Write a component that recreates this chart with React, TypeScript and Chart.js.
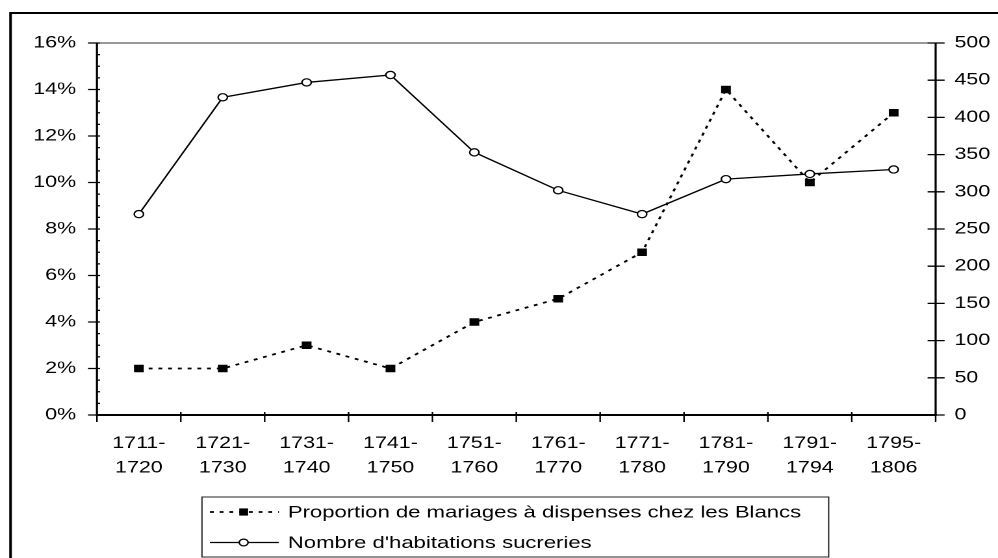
import React, { useEffect, useRef } from 'react';
import { Chart, registerables } from 'chart.js';

Chart.register(...registerables);

// ---- data ----
const categories: string[][] = [
  ['1711-', '1720'], ['1721-', '1730'], ['1731-', '1740'], ['1741-', '1750'], ['1751-', '1760'],
  ['1761-', '1770'], ['1771-', '1780'], ['1781-', '1790'], ['1791-', '1794'], ['1795-', '1806'],
];
const proportionValues = [2, 2, 3, 2, 4, 5, 7, 14, 10, 13];
const habitationValues = [270, 427, 447, 457, 353, 302, 270, 317, 324, 330];
const leftMax = 16;
const leftStep = 2;
const rightMax = 500;
const rightStep = 50;
const seriesLabels = [
  'Proportion de mariages à dispenses chez les Blancs',
  "Nombre d'habitations sucreries",
];

// ---- layout ----
const W = 768;
const H = 558;
const SX = 998 / W;
const FONT = '"Liberation Sans", Arial, sans-serif';

const framePlugin = {
  id: 'framePlugin',
  afterDraw(chart: any) {
    const { ctx, chartArea } = chart;
    const { left, right, top, bottom } = chartArea;
    const yL = chart.scales.y;
    const yR = chart.scales.y1;
    ctx.save();
    // outer frame
    ctx.strokeStyle = '#000';
    ctx.lineWidth = 2;
    ctx.beginPath();
    ctx.moveTo(8.1, H + 5);
    ctx.lineTo(8.1, 13);
    ctx.lineTo(W + 5, 13);
    ctx.stroke();
    // top line of plot
    ctx.strokeStyle = '#333';
    ctx.lineWidth = 1;
    ctx.beginPath();
    ctx.moveTo(left, top);
    ctx.lineTo(right, top);
    ctx.stroke();
    // axes
    ctx.strokeStyle = '#000';
    ctx.lineWidth = 1.6;
    ctx.beginPath();
    ctx.moveTo(left, top);
    ctx.lineTo(left, bottom);
    ctx.moveTo(right, top);
    ctx.lineTo(right, bottom);
    ctx.stroke();
    ctx.lineWidth = 2;
    ctx.beginPath();
    ctx.moveTo(left - 0.8, bottom);
    ctx.lineTo(right + 0.8, bottom);
    ctx.stroke();
    // left ticks
    ctx.lineWidth = 1.3;
    ctx.beginPath();
    for (let v = 0; v <= leftMax + 1e-9; v += leftStep / 4) {
      const y = yL.getPixelForValue(v);
      const major = Math.abs(v / leftStep - Math.round(v / leftStep)) < 1e-6;
      ctx.moveTo(major ? left - 6.9 : left, y);
      ctx.lineTo(left + 2.4, y);
    }
    // right ticks
    for (let v = 0; v <= rightMax + 1e-9; v += rightStep) {
      const y = yR.getPixelForValue(v);
      ctx.moveTo(right - 6.2, y);
      ctx.lineTo(right + 6.9, y);
    }
    ctx.stroke();
    // x ticks
    ctx.lineWidth = 1.2;
    ctx.beginPath();
    const n = categories.length;
    for (let i = 0; i <= n; i++) {
      const x = left + (i * (right - left)) / n;
      ctx.moveTo(x, bottom - 3);
      ctx.lineTo(x, bottom + 7);
    }
    ctx.stroke();

    // legend
    const bx0 = 155.4, bx1 = 637.7, by0 = 497, by1 = 557;
    ctx.strokeStyle = '#222';
    ctx.lineWidth = 1;
    ctx.strokeRect(bx0, by0, bx1 - bx0, by1 - by0);
    const rows = [512, 542.5];
    const lx0 = 161.5, lx1 = 214.6, mx = 187.5;
    // row 1: dotted line with square
    ctx.strokeStyle = '#000';
    ctx.lineWidth = 1.8;
    ctx.setLineDash([3, 4.5]);
    ctx.beginPath();
    ctx.moveTo(lx0, rows[0]);
    ctx.lineTo(lx1, rows[0]);
    ctx.stroke();
    ctx.setLineDash([]);
    ctx.fillStyle = '#000';
    ctx.fillRect(mx - 3.4, rows[0] - 3.6, 6.8, 7.2);
    // row 2: solid line with open circle
    ctx.lineWidth = 1.3;
    ctx.beginPath();
    ctx.moveTo(lx0, rows[1]);
    ctx.lineTo(lx1, rows[1]);
    ctx.stroke();
    ctx.beginPath();
    ctx.arc(mx, rows[1], 3.4, 0, Math.PI * 2);
    ctx.fillStyle = '#fff';
    ctx.fill();
    ctx.lineWidth = 1.2;
    ctx.stroke();
    // texts
    ctx.fillStyle = '#000';
    ctx.font = `17px ${FONT}`;
    ctx.textBaseline = 'alphabetic';
    ctx.textAlign = 'left';
    ctx.fillText(seriesLabels[0], 221.5, 517.5);
    ctx.fillText(seriesLabels[1], 221.5, 548);
    ctx.restore();
  },
};

const noGrid = { display: false, drawTicks: false, tickLength: 0 };

export default function App() {
  const ref = useRef<HTMLCanvasElement>(null);
  useEffect(() => {
    const canvas = ref.current;
    if (!canvas) return;
    const chart = new Chart(canvas, {
      type: 'line',
      data: {
        labels: categories,
        datasets: [
          {
            label: seriesLabels[1],
            data: habitationValues,
            yAxisID: 'y1',
            borderColor: '#000',
            borderWidth: 1.3,
            pointStyle: 'circle',
            pointRadius: 3.6,
            pointBorderWidth: 1.2,
            pointBackgroundColor: '#fff',
            pointBorderColor: '#000',
            tension: 0,
            order: 0,
          },
          {
            label: seriesLabels[0],
            data: proportionValues,
            yAxisID: 'y',
            borderColor: '#000',
            borderWidth: 1.8,
            borderDash: [3, 4.5],
            pointStyle: 'rect',
            pointRadius: 5.3,
            pointBorderWidth: 0,
            pointBackgroundColor: '#000',
            pointBorderColor: '#000',
            tension: 0,
            order: 1,
          },
        ],
      },
      options: {
        responsive: false,
        animation: false,
        devicePixelRatio: 2,
        layout: { padding: { left: 0, right: 0, top: 43, bottom: 0 } },
        plugins: { legend: { display: false }, tooltip: { enabled: false } },
        scales: {
          x: {
            type: 'category',
            offset: true,
            grid: noGrid,
            border: { display: false },
            ticks: {
              color: '#000',
              font: { family: FONT, size: 16.5, lineHeight: 1.5 },
              padding: 16,
              maxRotation: 0,
              autoSkip: false,
            },
            afterFit: (s: any) => { s.height = H - 415; },
          },
          y: {
            position: 'left',
            min: 0,
            max: leftMax,
            grid: noGrid,
            border: { display: false },
            ticks: {
              stepSize: leftStep,
              color: '#000',
              padding: 16,
              font: { family: FONT, size: 16.5 },
              callback: (v: any) => `${v}%`,
            },
            afterFit: (s: any) => { s.width = 74.6; },
          },
          y1: {
            position: 'right',
            min: 0,
            max: rightMax,
            grid: noGrid,
            border: { display: false },
            ticks: {
              stepSize: rightStep,
              color: '#000',
              padding: 14.5,
              font: { family: FONT, size: 16.5 },
            },
            afterFit: (s: any) => { s.width = W - 720; },
          },
        },
      },
      plugins: [framePlugin],
    });
    return () => chart.destroy();
  }, []);

  return (
    <div style={{ position: 'fixed', left: 0, top: 0, width: 998, height: 558, overflow: 'hidden', background: '#fff' }}>
      <div style={{ width: W, height: H, transform: `scaleX(${SX})`, transformOrigin: '0 0' }}>
        <canvas ref={ref} width={W} height={H} style={{ display: 'block', width: W, height: H }} />
      </div>
    </div>
  );
}
